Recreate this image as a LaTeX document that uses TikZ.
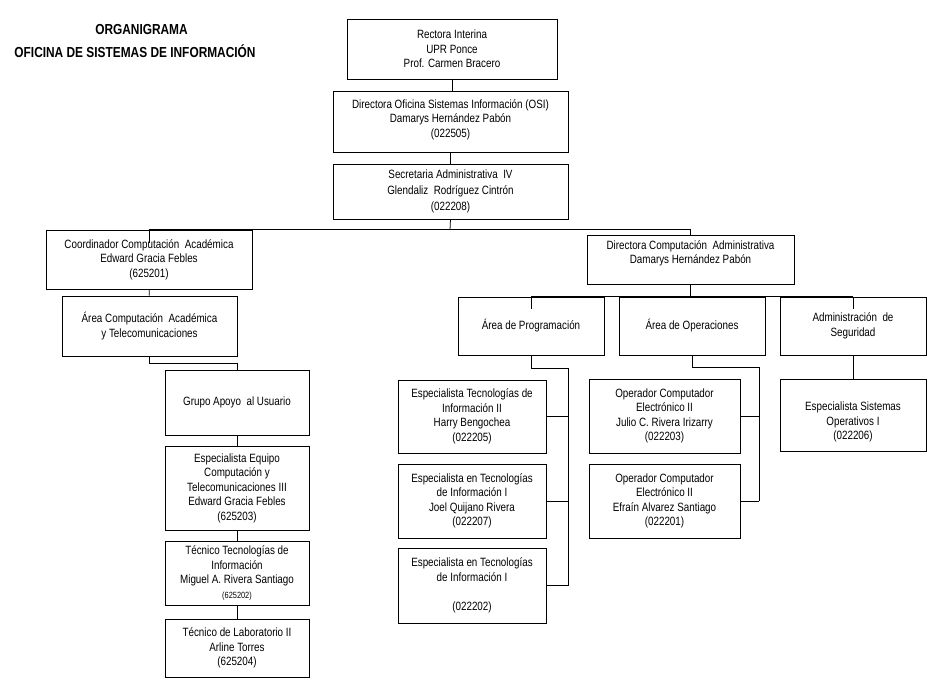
\documentclass[tikz,border=0pt]{standalone}
\usepackage{fontspec}
\setmainfont[FakeStretch=0.82]{Liberation Sans}
\usetikzlibrary{positioning,calc}

\begin{document}
\begin{tikzpicture}[x=1pt, y=-1pt, line width=0.75pt,
    caja/.style n args={2}{draw, rectangle, align=center, inner sep=2pt,
        minimum width=#1pt, minimum height=#2pt,
        font=\fontsize{12}{14.5}\selectfont},
    titulo/.style={font=\fontsize{14.5}{17}\selectfont\bfseries}]
    \useasboundingbox (0,0) rectangle (936,697);

    \node[titulo] (tit1) at (141.5,30) {ORGANIGRAMA};
    \node[titulo] (tit2) at (135,51) {OFICINA DE SISTEMAS DE INFORMACIÓN};

    \node[caja={210}{60}] (rect) at (452,49) {Rectora Interina\\UPR Ponce\\Prof. Carmen Bracero};
    \node[caja={235}{61}] (osi) at (450.5,121.5) {Directora Oficina Sistemas Información (OSI)\\Damarys Hernández Pabón\\(022505)\\[-8pt]\mbox{}};
    \node[caja={235}{55}, font=\fontsize{12}{16}\selectfont] (sec) at (450.5,191.5) {Secretaria Administrativa~ IV\\Glendaliz~ Rodríguez Cintrón\\(022208)};

    \node[caja={206}{59}] (coord) at (149,259.5) {Coordinador Computación~ Académica\\Edward Gracia Febles\\(625201)};
    \node[caja={175}{60}] (aca) at (149.5,326) {Área Computación~ Académica\\y Telecomunicaciones};
    \node[caja={144}{65}] (grupo) at (237,402.5) {Grupo Apoyo~ al Usuario};
    \node[caja={144}{84}] (eeq) at (237,488) {Especialista Equipo\\Computación y\\Telecomunicaciones III\\Edward Gracia Febles\\(625203)};
    \node[caja={144}{64}] (tti) at (237,573) {Técnico Tecnologías de\\Información\\Miguel A. Rivera Santiago\\{\fontsize{9}{14.5}\selectfont (625202)}};
    \node[caja={144}{58}] (tlab) at (237,648) {Técnico de Laboratorio II\\Arline Torres\\(625204)};

    \node[caja={207}{49}] (dca) at (690.5,259.5) {Directora Computación~ Administrativa\\Damarys Hernández Pabón\\\mbox{}};
    \node[caja={146}{58}] (prog) at (531,326) {Área de Programación};
    \node[caja={146}{58}] (oper) at (692,326) {Área de Operaciones};
    \node[caja={146}{58}] (seg) at (853,326) {Administración~ de\\Seguridad};

    \node[caja={148}{73}] (eti2) at (472,416.5) {Especialista Tecnologías de\\Información II\\Harry Bengochea\\(022205)};
    \node[caja={148}{74}] (etia) at (472,501) {Especialista en Tecnologías\\de Información I\\Joel Quijano Rivera\\(022207)};
    \node[caja={148}{75}] (etib) at (472,585.5) {Especialista en Tecnologías\\de Información I\\\mbox{}\\(022202)};
    \node[caja={151}{74}] (oce1) at (664.5,416) {Operador Computador\\Electrónico II\\Julio C. Rivera Irizarry\\(022203)};
    \node[caja={151}{74}] (oce2) at (664.5,501) {Operador Computador\\Electrónico II\\Efraín Alvarez Santiago\\(022201)};
    \node[caja={146}{72}] (eso) at (853,415) {\mbox{}\\[8pt]Especialista Sistemas\\Operativos I\\(022206)};

    \coordinate (bus) at (450,230);
    \coordinate (pbar) at (568,368);
    \coordinate (obar) at (759,367);

    \draw (rect.south) -- (rect.south |- osi.north);
    \draw (osi) -- (sec);
    \draw (sec.south) -- (bus);
    \draw (coord.north) -- (coord.north -| dca.north) -- (dca.north);
    \draw (coord.north) -- ++(0,13);
    \draw (coord) -- (aca);
    \draw (aca.south) -- ++(0,7) -| (grupo.north);
    \draw (grupo) -- (eeq);
    \draw (eeq) -- (tti);
    \draw (tti) -- (tlab);

    \draw (dca.south) -- (dca.south |- oper.north);
    \draw (prog.north) -- (seg.north);
    \draw (prog.north) -- ++(0,12);
    \draw (seg.north) -- ++(0,12);
    \draw (prog.south) |- (pbar) -- (pbar |- etib.east);
    \draw (eti2.east) -- (eti2.east -| pbar);
    \draw (etia.east) -- (etia.east -| pbar);
    \draw (etib.east) -- (etib.east -| pbar);
    \draw (oper.south) |- (obar) -- (obar |- oce2.east);
    \draw (oce1.east) -- (oce1.east -| obar);
    \draw (oce2.east) -- (oce2.east -| obar);
    \draw (seg) -- (eso);
\end{tikzpicture}
\end{document}
